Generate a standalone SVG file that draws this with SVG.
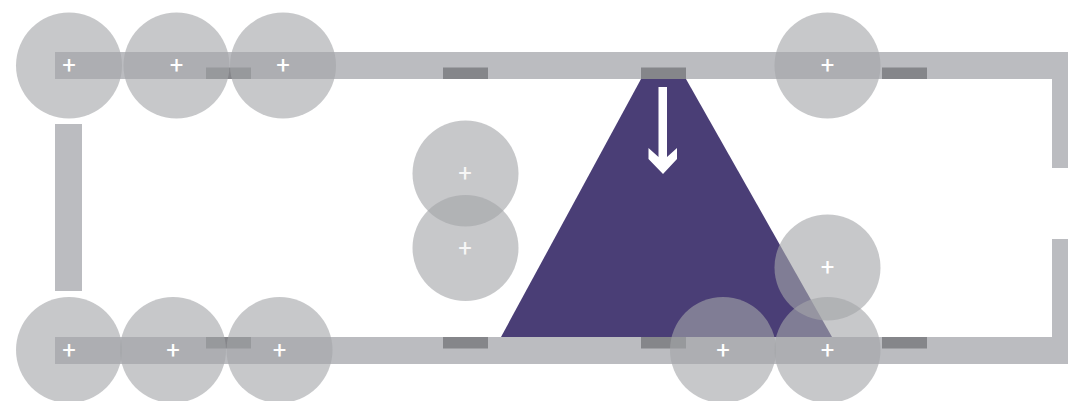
<svg xmlns="http://www.w3.org/2000/svg" width="1068" height="401" viewBox="0 0 1068 401">
<style>
.bar{fill:#bbbcc0}
.mark{fill:#85868a}
.c{fill:#a4a5a8;fill-opacity:.61}
.p{fill:#fff;font-family:"Roboto","Liberation Sans",sans-serif;font-weight:400;font-size:24px;text-anchor:middle}
.p2{fill:#fff;fill-opacity:.85;font-family:"Roboto","Liberation Sans",sans-serif;font-weight:400;font-size:24px;text-anchor:middle}
</style>
<rect width="1068" height="401" fill="#fff"/>
<g id="track">
<rect class="bar" x="55" y="52" width="1013" height="27"/>
<rect class="bar" x="55" y="337" width="1013" height="27"/>
<rect class="bar" x="55" y="124" width="27" height="167"/>
<rect class="bar" x="1052" y="79" width="16" height="89"/>
<rect class="bar" x="1052" y="239" width="16" height="98"/>
</g>
<polygon id="beam" points="641,79 686,79 832,337 501,337" fill="#4a3e76"/>
<g id="marks">
<rect class="mark" x="206" y="67.500" width="45" height="11.500"/>
<rect class="mark" x="443" y="67.500" width="45" height="11.500"/>
<rect class="mark" x="641" y="67.500" width="45" height="11.500"/>
<rect class="mark" x="882" y="67.500" width="45" height="11.500"/>
<rect class="mark" x="206" y="337" width="45" height="11.500"/>
<rect class="mark" x="443" y="337" width="45" height="11.500"/>
<rect class="mark" x="641" y="337" width="45" height="11.500"/>
<rect class="mark" x="882" y="337" width="45" height="11.500"/>
</g>
<polygon id="arrow" points="658.500,87 667,87 667,157 677,148 677,159 663,174 648.500,159 648.500,148 658.500,157" fill="#fff"/>
<g id="n1"><circle class="c" cx="69" cy="65.500" r="53"/><text class="p" x="69" y="73">+</text></g>
<g id="n2"><circle class="c" cx="176.500" cy="65.500" r="53"/><text class="p" x="176.500" y="73">+</text></g>
<g id="n3"><circle class="c" cx="283" cy="65.500" r="53"/><text class="p" x="283" y="73">+</text></g>
<g id="n4"><circle class="c" cx="827.500" cy="65.500" r="53"/><text class="p" x="827.500" y="73">+</text></g>
<g id="n5"><circle class="c" cx="465.500" cy="173.500" r="53"/><text class="p2" x="465" y="181">+</text></g>
<g id="n6"><circle class="c" cx="465.500" cy="248" r="53"/><text class="p2" x="465" y="255.500">+</text></g>
<g id="n7"><circle class="c" cx="827.500" cy="267.500" r="53"/><text class="p" x="827.500" y="275">+</text></g>
<g id="n8"><circle class="c" cx="69" cy="350" r="53"/><text class="p" x="69" y="357.500">+</text></g>
<g id="n9"><circle class="c" cx="173" cy="350" r="53"/><text class="p" x="173" y="357.500">+</text></g>
<g id="n10"><circle class="c" cx="279.500" cy="350" r="53"/><text class="p" x="279.500" y="357.500">+</text></g>
<g id="n11"><circle class="c" cx="723" cy="350" r="53"/><text class="p" x="723" y="357.500">+</text></g>
<g id="n12"><circle class="c" cx="827.500" cy="350" r="53"/><text class="p" x="827.500" y="357.500">+</text></g>
</svg>
